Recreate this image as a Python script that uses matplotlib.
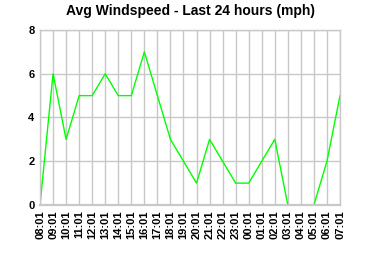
import matplotlib
matplotlib.use('Agg')
import matplotlib.pyplot as plt

hours = ['08:01', '09:01', '10:01', '11:01', '12:01', '13:01', '14:01', '15:01',
         '16:01', '17:01', '18:01', '19:01', '20:01', '21:01', '22:01', '23:01',
         '00:01', '01:01', '02:01', '03:01', '04:01', '05:01', '06:01', '07:01']
speed = [0, 6, 3, 5, 5, 6, 5, 5, 7, 5, 3, 2, 1, 3, 2, 1, 1, 2, 3, 0, 0, 0, 2, 5]

plt.rcParams['font.family'] = ['Liberation Sans', 'DejaVu Sans']

fig = plt.figure(figsize=(3.8, 2.6), dpi=100)
ax = fig.add_axes([40 / 380, 1 - 205 / 260, 300 / 380, 175 / 260])

x = range(len(hours))
ax.plot(x, speed, color='#00ff00', linewidth=1, zorder=2)

ax.set_xlim(0, len(hours) - 1)
ax.set_ylim(0, 8)
ax.set_xticks(list(x))
ax.set_xticklabels(hours, rotation=90, fontsize=8, fontweight='bold')
ax.set_yticks([0, 2, 4, 6, 8])
ax.set_yticklabels(['0', '2', '4', '6', '8'], fontsize=8, fontweight='bold')
ax.tick_params(length=0, pad=4)
ax.grid(True, color='#c8c8c8', linewidth=1)
ax.set_axisbelow(True)
for s in ax.spines.values():
    s.set_color('#c8c8c8')
    s.set_linewidth(1)
    s.set_zorder(3)
# the zero stretch sits under the frame in the original
ax.spines['bottom'].set_linewidth(1.6)

fig.suptitle('Avg Windspeed - Last 24 hours (mph)', fontsize=10, fontweight='bold', y=0.985)

fig.savefig('out.png', dpi=100)
